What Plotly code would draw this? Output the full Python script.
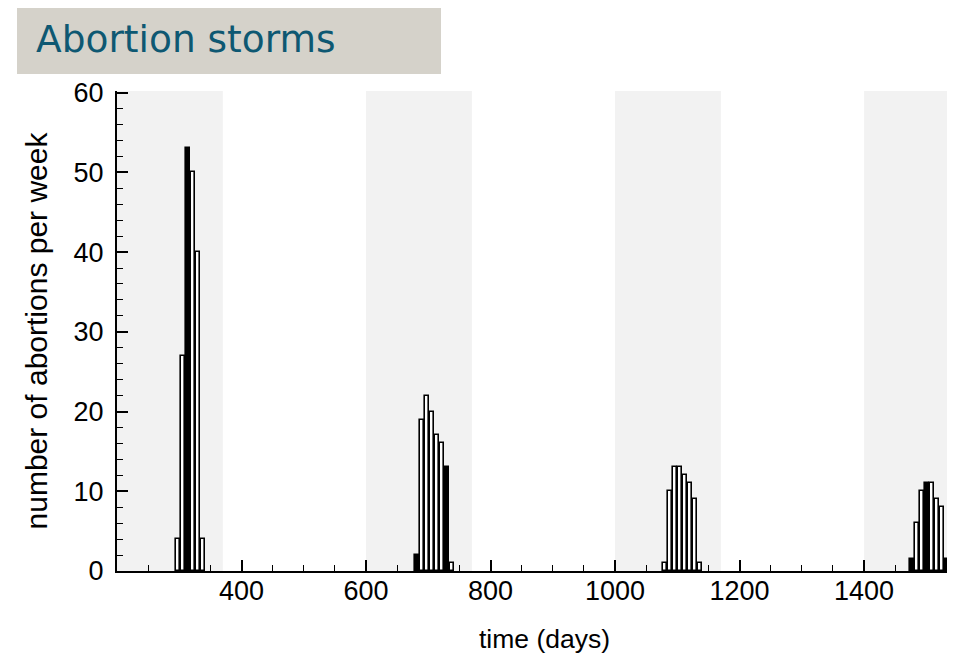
import plotly.graph_objects as go

# ---- data ----
bin_days = 8.0
storm_starts = [294.0, 677.9, 1076.3, 1473.1]
storm_counts = [
    [4, 27, 53, 50, 40, 4],
    [2, 19, 22, 20, 17, 16, 13, 1],
    [1, 10, 13, 13, 12, 11, 9, 1],
    [1.5, 6, 10, 11, 11, 9, 8, 1.5],
]
storm_dark = [
    [0, 0, 1, 0, 0, 0],
    [1, 0, 0, 0, 0, 0, 1, 0],
    [0, 0, 0, 0, 0, 0, 0, 0],
    [1, 0, 0, 1, 0, 0, 0, 1],
]
season_start = [200, 600, 1000, 1400]
season_end = [370, 770, 1170, 1570]
x_ticks = [400, 600, 800, 1000, 1200, 1400]
y_ticks = [0, 10, 20, 30, 40, 50, 60]

TITLE = "Abortion storms"
X_TITLE = "time (days)"
Y_TITLE = "number of abortions per week"

# ---- build bars ----
xs, ys, fills = [], [], []
for start, counts, dark in zip(storm_starts, storm_counts, storm_dark):
    for i, (c, d) in enumerate(zip(counts, dark)):
        xs.append(start + (i + 0.5) * bin_days)
        ys.append(c)
        fills.append("black" if d else "white")

fig = go.Figure()
for s0, s1 in zip(season_start, season_end):
    fig.add_vrect(x0=s0, x1=s1, fillcolor="#f2f2f2", line_width=0, layer="below")

fig.add_trace(go.Bar(
    x=xs, y=ys, width=bin_days * 0.72,
    marker=dict(color=fills, line=dict(color="black", width=1.6)),
    showlegend=False, hoverinfo="skip",
))

W, H = 947, 652
L, R, T, B = 109, 0, 83, 89
pw, ph = W - L - R, H - T - B

def px_x(p):
    return (p - L) / pw

def px_y(p):
    return (H - B - p) / ph

# title box
fig.add_shape(type="rect", xref="paper", yref="paper",
              x0=px_x(9), x1=px_x(433), y0=px_y(66), y1=px_y(-1),
              fillcolor="#d5d2ca", line_width=0, layer="above")
fig.add_annotation(text=TITLE, xref="paper", yref="paper",
                   x=px_x(26), y=px_y(31), xanchor="left", yanchor="middle",
                   showarrow=False,
                   font=dict(family="DejaVu Sans, Verdana", size=37.5, color="#0e5872"))

tick_font = dict(family="Liberation Sans Narrow, Liberation Sans, Arial", size=27, color="black")
xt_font = dict(family="Liberation Sans, Arial", size=26.5, color="black")
yt_font = dict(family="Liberation Sans, Arial", size=30, color="black")

# x-axis title (the reference plot continues past the right edge, so its title sits right of centre)
fig.add_annotation(text=X_TITLE, xref="paper", yref="paper",
                   x=px_x(536), y=px_y(631), xanchor="center", yanchor="middle",
                   showarrow=False, font=xt_font)

fig.update_layout(
    width=W, height=H,
    margin=dict(l=L, r=R, t=T, b=B),
    paper_bgcolor="white", plot_bgcolor="white",
    bargap=0,
    xaxis=dict(
        range=[200, 1546], tickvals=x_ticks, ticks="inside", ticklen=11, tickwidth=1.6,
        tickcolor="black", showline=True, linecolor="black", linewidth=2,
        showgrid=False, zeroline=False, tickfont=tick_font, ticklabelstandoff=-5,
        minor=dict(dtick=50, tick0=0, ticks="inside", ticklen=6, tickwidth=1.4, tickcolor="black", showgrid=False),
    ),
    yaxis=dict(
        range=[0, 60.2], tickvals=y_ticks, ticks="inside", ticklen=11, tickwidth=1.6,
        tickcolor="black", showline=True, linecolor="black", linewidth=2,
        showgrid=False, zeroline=False, tickfont=tick_font, ticklabelstandoff=6,
        minor=dict(dtick=2, tick0=0, ticks="inside", ticklen=6, tickwidth=1.4, tickcolor="black", showgrid=False),
        title=dict(text=Y_TITLE, font=yt_font, standoff=17),
    ),
)

fig.write_html("out.html")
